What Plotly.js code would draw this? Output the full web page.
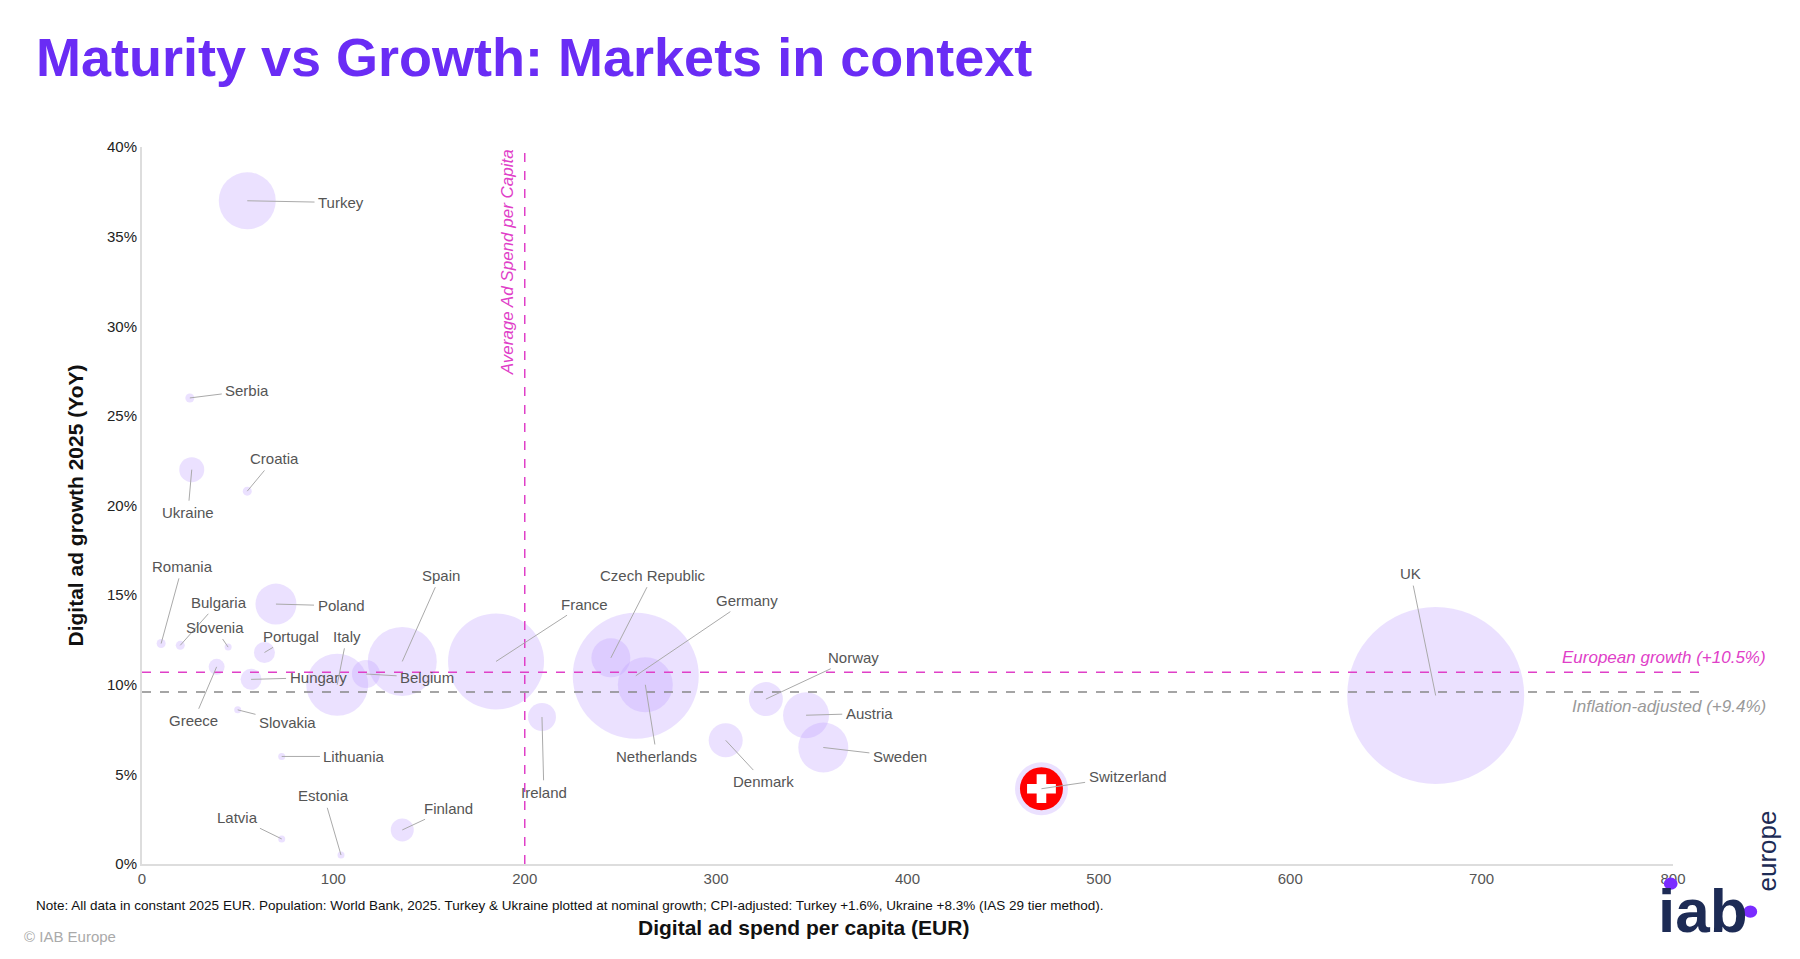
<!DOCTYPE html>
<html>
<head>
<meta charset="utf-8">
<script src="https://cdn.plot.ly/plotly-3.0.1.min.js"></script>
<style>
  html, body { margin: 0; padding: 0; background: #fff; }
  #chart { width: 1800px; height: 959px; }
</style>
</head>
<body>
<div id="chart"></div>
<script>
// Markets: spend per capita (EUR), growth 2025 (%), bubble diameter (market size proxy)
const countries = ['Turkey', 'Serbia', 'Croatia', 'Ukraine', 'Romania', 'Bulgaria', 'Slovenia',
    'Portugal', 'Greece', 'Hungary', 'Poland', 'Italy', 'Belgium', 'Spain', 'France',
    'Czech Republic', 'Germany', 'Netherlands', 'Slovakia', 'Lithuania', 'Latvia', 'Estonia',
    'Finland', 'Ireland', 'Norway', 'Denmark', 'Austria', 'Sweden', 'Switzerland', 'UK'];
const spendPerCapita = [55, 25, 55, 26, 10, 20, 45, 64, 39, 57, 70, 102, 117, 136, 185,
    245, 258, 263, 50, 73, 73, 104, 136, 209, 326, 305, 347, 356, 470, 676];
const growth = [37.0, 26.0, 20.8, 22.0, 12.3, 12.2, 12.1, 11.8, 11.0, 10.3, 14.5, 10.0, 10.6, 11.3, 11.3,
    11.5, 10.5, 10.0, 8.6, 6.0, 1.4, 0.5, 1.9, 8.2, 9.2, 6.9, 8.3, 6.5, 4.2, 9.4];
const bubble = [57, 9, 9, 25, 9, 9, 7, 21, 16, 21, 41, 62, 28, 69, 96,
    39, 126, 55, 7, 7, 7, 7, 23, 28, 34, 34, 46, 50, 53, 177];
// label anchor positions (data coords)
const labelX = [104, 55, 69, 24, 21, 40, 38, 78, 27, 92, 104, 107, 149, 156, 231,
    267, 316, 269, 76, 111, 50, 95, 160, 210, 372, 325, 380, 396, 515, 663];
const labelY = [36.9, 26.4, 22.6, 19.6, 16.6, 14.6, 13.2, 12.7, 8.0, 10.4, 14.4, 12.7, 10.4, 16.1, 14.5,
    16.1, 14.7, 6.0, 7.9, 6.0, 2.6, 3.8, 3.1, 4.0, 11.5, 4.6, 8.4, 6.0, 4.9, 16.2];

const avgSpend = 200;
const euroGrowth = 10.7;
const inflationAdj = 9.6;

const xTicks = [0, 100, 200, 300, 400, 500, 600, 700, 800];
const yTicks = [0, 5, 10, 15, 20, 25, 30, 35, 40];
const yTickText = yTicks.map(v => v + '%');

const swissIdx = countries.indexOf('Switzerland');

const traces = [
    {
        x: spendPerCapita, y: growth, text: countries,
        mode: 'markers', type: 'scatter', hoverinfo: 'text',
        marker: {
            size: bubble, sizemode: 'diameter',
            color: 'rgba(190,160,255,0.45)', line: {width: 0},
        },
    },
    {
        x: [spendPerCapita[swissIdx]], y: [growth[swissIdx]],
        mode: 'markers', type: 'scatter', hoverinfo: 'skip',
        marker: {size: bubble[swissIdx] - 10, color: '#ff0000', line: {width: 0}},
    },
    {
        x: [spendPerCapita[swissIdx]], y: [growth[swissIdx]],
        mode: 'markers', type: 'scatter', hoverinfo: 'skip',
        marker: {symbol: 'cross', size: 24, color: '#ffffff', line: {width: 0}},
    },
];

const labelFont = {family: 'Liberation Sans, Arial, sans-serif', size: 15, color: '#555'};
const annotations = countries.map((c, i) => ({
    x: spendPerCapita[i], y: growth[i], xref: 'x', yref: 'y',
    ax: labelX[i], ay: labelY[i], axref: 'x', ayref: 'y',
    text: c, font: labelFont, showarrow: true, arrowhead: 0,
    arrowwidth: 1, arrowcolor: '#aaa', standoff: 0, startstandoff: 2,
}));

annotations.push(
    {x: 1, y: euroGrowth, xref: 'paper', yref: 'y', xanchor: 'right', yanchor: 'bottom', yshift: 3,
     xshift: 95, text: '<i>European growth (+10.5%)</i>', showarrow: false,
     font: {family: 'Liberation Sans, Arial', size: 17, color: '#e040c8'}},
    {x: 1, y: inflationAdj, xref: 'paper', yref: 'y', xanchor: 'right', yanchor: 'top', yshift: -3,
     xshift: 95, text: '<i>Inflation-adjusted (+9.4%)</i>', showarrow: false,
     font: {family: 'Liberation Sans, Arial', size: 17, color: '#999'}},
    {x: avgSpend, y: 40, xref: 'x', yref: 'y', xanchor: 'right', yanchor: 'top', xshift: -6,
     text: '<i>Average Ad Spend per Capita</i>', textangle: -90, showarrow: false,
     font: {family: 'Liberation Sans, Arial', size: 17, color: '#e040c8'}},
    {x: 0, y: 1, xref: 'paper', yref: 'paper', xanchor: 'left', yanchor: 'top', xshift: -108, yshift: 122,
     text: '<b>Maturity vs Growth: Markets in context</b>', showarrow: false,
     font: {family: 'Liberation Sans, Arial', size: 54, color: '#6a2cf5'}},
    {x: 0, y: 0, xref: 'paper', yref: 'paper', xanchor: 'left', yanchor: 'top', xshift: -108, yshift: -32,
     text: 'Note: All data in constant 2025 EUR. Population: World Bank, 2025. Turkey &amp; Ukraine plotted at nominal growth; CPI-adjusted: Turkey +1.6%, Ukraine +8.3% (IAS 29 tier method).',
     showarrow: false, font: {family: 'Liberation Sans, Arial', size: 13.5, color: '#111'}},
    {x: 0.432, y: 0, xref: 'paper', yref: 'paper', xanchor: 'center', yanchor: 'top', yshift: -50,
     text: '<b>Digital ad spend per capita (EUR)</b>', showarrow: false,
     font: {family: 'Liberation Sans, Arial', size: 21, color: '#111'}},
    {x: 0, y: 0, xref: 'paper', yref: 'paper', xanchor: 'left', yanchor: 'top', xshift: -120, yshift: -62,
     text: '© IAB Europe', showarrow: false, font: {family: 'Liberation Sans, Arial', size: 15, color: '#aaa'}},
    {x: 1, y: 0, xref: 'paper', yref: 'paper', xanchor: 'left', yanchor: 'top', xshift: -17, yshift: -10,
     text: '<b>iab</b>', showarrow: false, font: {family: 'Liberation Sans, Arial', size: 62, color: '#1d2b55'}},
    {x: 1, y: 0, xref: 'paper', yref: 'paper', xanchor: 'left', yanchor: 'bottom', xshift: 76, yshift: -30,
     text: 'europe', textangle: -90, showarrow: false, font: {family: 'Liberation Sans, Arial', size: 26, color: '#1d2b55'}},
);

const shapes = [
    {type: 'line', xref: 'x', yref: 'y', x0: avgSpend, x1: avgSpend, y0: 0, y1: 40,
     line: {color: '#e040c8', width: 1.5, dash: 'dash'}},
    {type: 'line', xref: 'paper', yref: 'y', x0: 0, x1: 1.02, y0: euroGrowth, y1: euroGrowth,
     line: {color: '#e040c8', width: 1.5, dash: 'dash'}},
    {type: 'line', xref: 'paper', yref: 'y', x0: 0, x1: 1.02, y0: inflationAdj, y1: inflationAdj,
     line: {color: '#888', width: 1.5, dash: 'dash'}},
    {type: 'circle', xref: 'paper', yref: 'paper', x0: 1.046, x1: 1.055, y0: -0.075, y1: -0.058,
     fillcolor: '#7a2cff', line: {width: 0}},
    {type: 'circle', xref: 'paper', yref: 'paper', x0: 0.994, x1: 1.003, y0: -0.036, y1: -0.019,
     fillcolor: '#7a2cff', line: {width: 0}},
];

const layout = {
    width: 1800, height: 959,
    margin: {l: 142, r: 127, t: 147, b: 95},
    paper_bgcolor: '#fff', plot_bgcolor: '#fff',
    showlegend: false,
    font: {family: 'Liberation Sans, Arial, sans-serif', color: '#444'},
    xaxis: {
        range: [0, 800], tickvals: xTicks, showgrid: false, zeroline: false,
        showline: true, linecolor: '#ddd', linewidth: 2, ticks: '',
        tickfont: {size: 15, color: '#555'},
    },
    yaxis: {
        range: [0, 40], tickvals: yTicks, ticktext: yTickText, showgrid: false, zeroline: false,
        showline: true, linecolor: '#ddd', linewidth: 2, ticks: '',
        tickfont: {size: 15, color: '#222'},
        title: {text: '<b>Digital ad growth 2025 (YoY)</b>', standoff: 18,
                font: {size: 21, color: '#111'}},
    },
    shapes: shapes,
    annotations: annotations,
};

Plotly.newPlot('chart', traces, layout, {displayModeBar: false, staticPlot: true});
</script>
</body>
</html>
